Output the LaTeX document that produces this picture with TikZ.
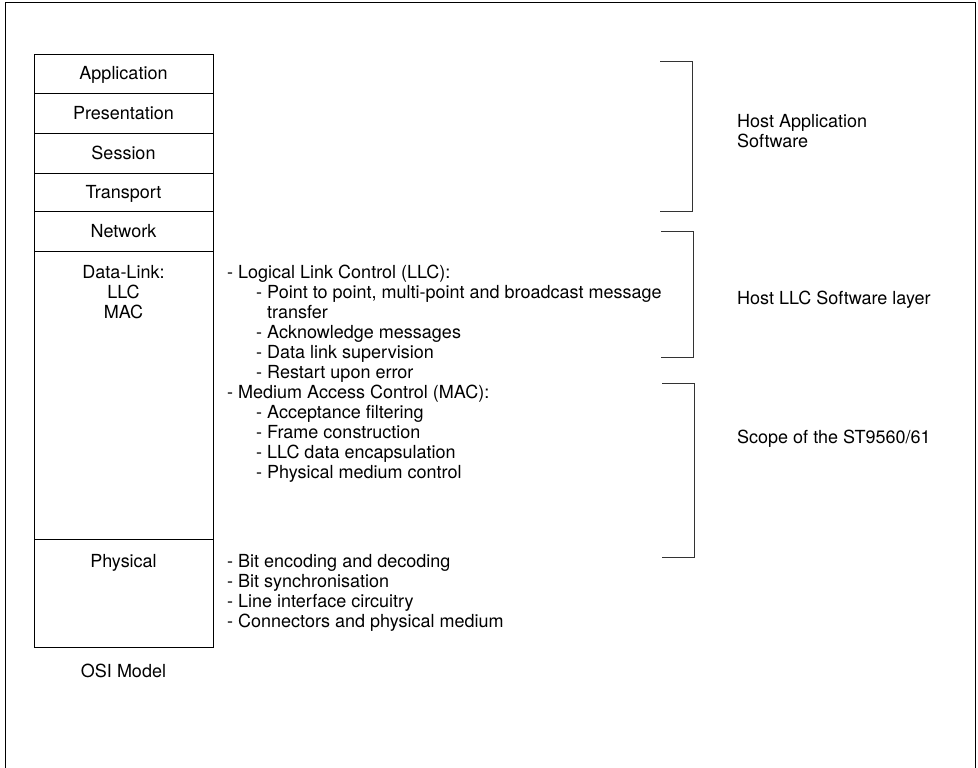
\documentclass[tikz,border=0pt]{standalone}
\usepackage{fontspec}
\setmainfont{TeX Gyre Heros}
\usetikzlibrary{positioning}
\begin{document}
\begin{tikzpicture}[x=1pt, y=-1pt,
    font=\fontsize{18}{19.9}\selectfont,
    layer/.style={draw, line width=0.9pt, outer sep=0pt, inner sep=0pt,
        minimum width=179pt, text height=15pt, text depth=2pt},
    txt/.style={anchor=base west, inner sep=0pt, align=left},
    brk/.style={line width=0.6pt, black!80}]
    \useasboundingbox (0,0) rectangle (978,768);
    % Outer frame (open at the bottom)
    \draw[line width=0.9pt] (5,768) -- (5,2) -- (975,2) -- (975,768);
    % OSI layer stack
    \node[layer, minimum height=39pt] (app) at (123.5,73.5) {Application};
    \node[layer, minimum height=40pt, below=0pt of app] (pres) {Presentation};
    \node[layer, minimum height=40pt, below=0pt of pres] (sess) {Session};
    \node[layer, minimum height=38pt, below=0pt of sess] (trans) {Transport};
    \node[layer, minimum height=40pt, below=0pt of trans] (net) {Network};
    \node[layer, minimum height=288pt, below=0pt of net] (dl) {};
    \node[layer, minimum height=108pt, below=0pt of dl] (phy) {};
    % multi-line nodes: base = baseline of the last line
    \node[anchor=base, inner sep=0pt, align=center] (dltxt) at (123.5,318)
        {Data-Link:\\LLC\\MAC};
    \node[anchor=base, inner sep=0pt] (phytxt) at (123.5,567) {Physical};
    \node[anchor=base, inner sep=0pt] (osi) at (123.5,677) {OSI Model};
    % Functions of each sublayer
    \node[txt] (llc) at (227,278) {- Logical Link Control (LLC):};
    \node[txt] (llcsub) at (256,378) {- Point to point, multi-point and broadcast message\\
        \hspace*{11pt}transfer\\- Acknowledge messages\\- Data link supervision\\
        - Restart upon error};
    \node[txt] (mac) at (227,398) {- Medium Access Control (MAC):};
    \node[txt] (macsub) at (256,478) {- Acceptance filtering\\- Frame construction\\
        - LLC data encapsulation\\- Physical medium control};
    \node[txt] (phylist) at (227,627) {- Bit encoding and decoding\\- Bit synchronisation\\
        - Line interface circuitry\\- Connectors and physical medium};
    % Brackets
    \coordinate (b1t) at (660,61);
    \coordinate (b1b) at (660,211);
    \coordinate (b2t) at (661,231);
    \coordinate (b2b) at (661,357);
    \coordinate (b3t) at (662,383);
    \coordinate (b3b) at (662,557);
    \draw[brk] (b1t) -- ++(32,0) |- (b1b);
    \draw[brk] (b2t) -- ++(32,0) |- (b2b);
    \draw[brk] (b3t) -- ++(32,0) |- (b3b);
    % Bracket labels
    \node[txt] (hostapp) at (737,147) {Host Application\\Software};
    \node[txt] (hostllc) at (737,304) {Host LLC Software layer};
    \node[txt] (scope) at (737,443) {Scope of the ST9560/61};
\end{tikzpicture}
\end{document}
